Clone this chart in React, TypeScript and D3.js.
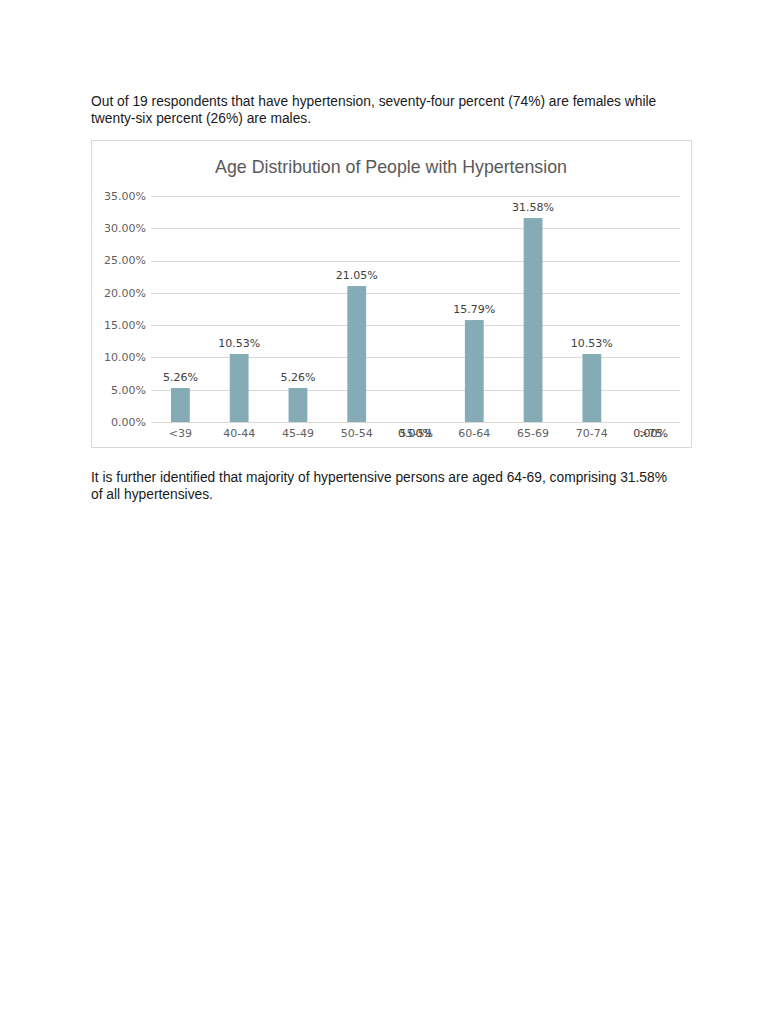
import { useEffect, useRef } from "react";
import { scaleLinear, scaleBand, select, format } from "d3";

const CATEGORIES = ["<39", "40-44", "45-49", "50-54", "55-59", "60-64", "65-69", "70-74", ">75"];
const VALUES = [5.26, 10.53, 5.26, 21.05, 0, 15.79, 31.58, 10.53, 0];
const Y_TICKS = [0, 5, 10, 15, 20, 25, 30, 35];

const TITLE = "Age Distribution of People with Hypertension";
const TOP_TEXT = [
  "Out of 19 respondents that have hypertension, seventy-four percent (74%) are females while",
  "twenty-six percent (26%) are males.",
];
const BOTTOM_TEXT = [
  "It is further identified that majority of hypertensive persons are aged 64-69, comprising 31.58%",
  "of all hypertensives.",
];

const W = 768;
const H = 1024;
const BOX = { x: 91, y: 140, w: 600, h: 307 };
const PLOT = { left: 151, right: 680, top: 196, bottom: 422 };

const BAR = "#84abb6";
const GRID = "#d9d9d9";
const AXIS_TEXT = "#5f5f5f";
const LABEL_TEXT = "#404040";
const BODY_FONT = "'Liberation Sans', Arial, sans-serif";
const CHART_FONT = "'DejaVu Sans', sans-serif";

export default function App() {
  const svgRef = useRef<SVGSVGElement>(null);

  useEffect(() => {
    const svg = select(svgRef.current);
    svg.selectAll("*").remove();
    svg.attr("width", W).attr("height", H);

    // page paragraphs
    TOP_TEXT.forEach((line, i) => {
      svg.append("text")
        .attr("x", 91)
        .attr("y", 106 + i * 17)
        .attr("font-family", BODY_FONT)
        .attr("font-size", "13.8px")
        .attr("fill", "#1a1a1a")
        .text(line);
    });
    BOTTOM_TEXT.forEach((line, i) => {
      svg.append("text")
        .attr("x", 91)
        .attr("y", 482 + i * 17)
        .attr("font-family", BODY_FONT)
        .attr("font-size", "13.8px")
        .attr("fill", "#1a1a1a")
        .text(line);
    });

    // chart frame
    svg.append("rect")
      .attr("x", BOX.x + 0.5)
      .attr("y", BOX.y + 0.5)
      .attr("width", BOX.w)
      .attr("height", BOX.h)
      .attr("fill", "#fff")
      .attr("stroke", GRID)
      .attr("stroke-width", 1);

    svg.append("text")
      .attr("x", 391)
      .attr("y", 173)
      .attr("text-anchor", "middle")
      .attr("font-family", BODY_FONT)
      .attr("font-size", "17.8px")
      .attr("fill", "#595959")
      .text(TITLE);

    const x = scaleBand()
      .domain(CATEGORIES)
      .range([PLOT.left, PLOT.right])
      .paddingInner(0.68)
      .paddingOuter(0.34);
    const y = scaleLinear().domain([0, 35]).range([PLOT.bottom, PLOT.top]);
    const pct = format(".2f");

    // gridlines + y labels
    Y_TICKS.forEach((t) => {
      svg.append("line")
        .attr("x1", PLOT.left)
        .attr("x2", PLOT.right)
        .attr("y1", Math.round(y(t)) + 0.5)
        .attr("y2", Math.round(y(t)) + 0.5)
        .attr("stroke", GRID)
        .attr("stroke-width", 1);
      svg.append("text")
        .attr("x", 146)
        .attr("y", y(t))
        .attr("dy", "0.35em")
        .attr("text-anchor", "end")
        .attr("font-family", CHART_FONT)
        .attr("font-size", "11px")
        .attr("fill", AXIS_TEXT)
        .text(`${pct(t)}%`);
    });

    // x labels
    const tickY = 437;
    CATEGORIES.forEach((c) => {
      svg.append("text")
        .attr("x", (x(c) ?? 0) + x.bandwidth() / 2)
        .attr("y", tickY)
        .attr("text-anchor", "middle")
        .attr("font-family", CHART_FONT)
        .attr("font-size", "11px")
        .attr("fill", AXIS_TEXT)
        .text(c);
    });

    // bars + data labels (zero values sit on the axis, over the category label)
    CATEGORIES.forEach((c, i) => {
      const v = VALUES[i];
      const bx = x(c) ?? 0;
      svg.append("rect")
        .attr("x", bx)
        .attr("y", y(v))
        .attr("width", x.bandwidth())
        .attr("height", PLOT.bottom - y(v))
        .attr("fill", BAR);
      svg.append("text")
        .attr("x", bx + x.bandwidth() / 2)
        .attr("y", v === 0 ? tickY : y(v) - 7)
        .attr("text-anchor", "middle")
        .attr("font-family", CHART_FONT)
        .attr("font-size", "11px")
        .attr("fill", LABEL_TEXT)
        .text(`${pct(v)}%`);
    });
  }, []);

  return (
    <svg ref={svgRef} style={{ position: "absolute", left: 0, top: 0 }} />
  );
}
